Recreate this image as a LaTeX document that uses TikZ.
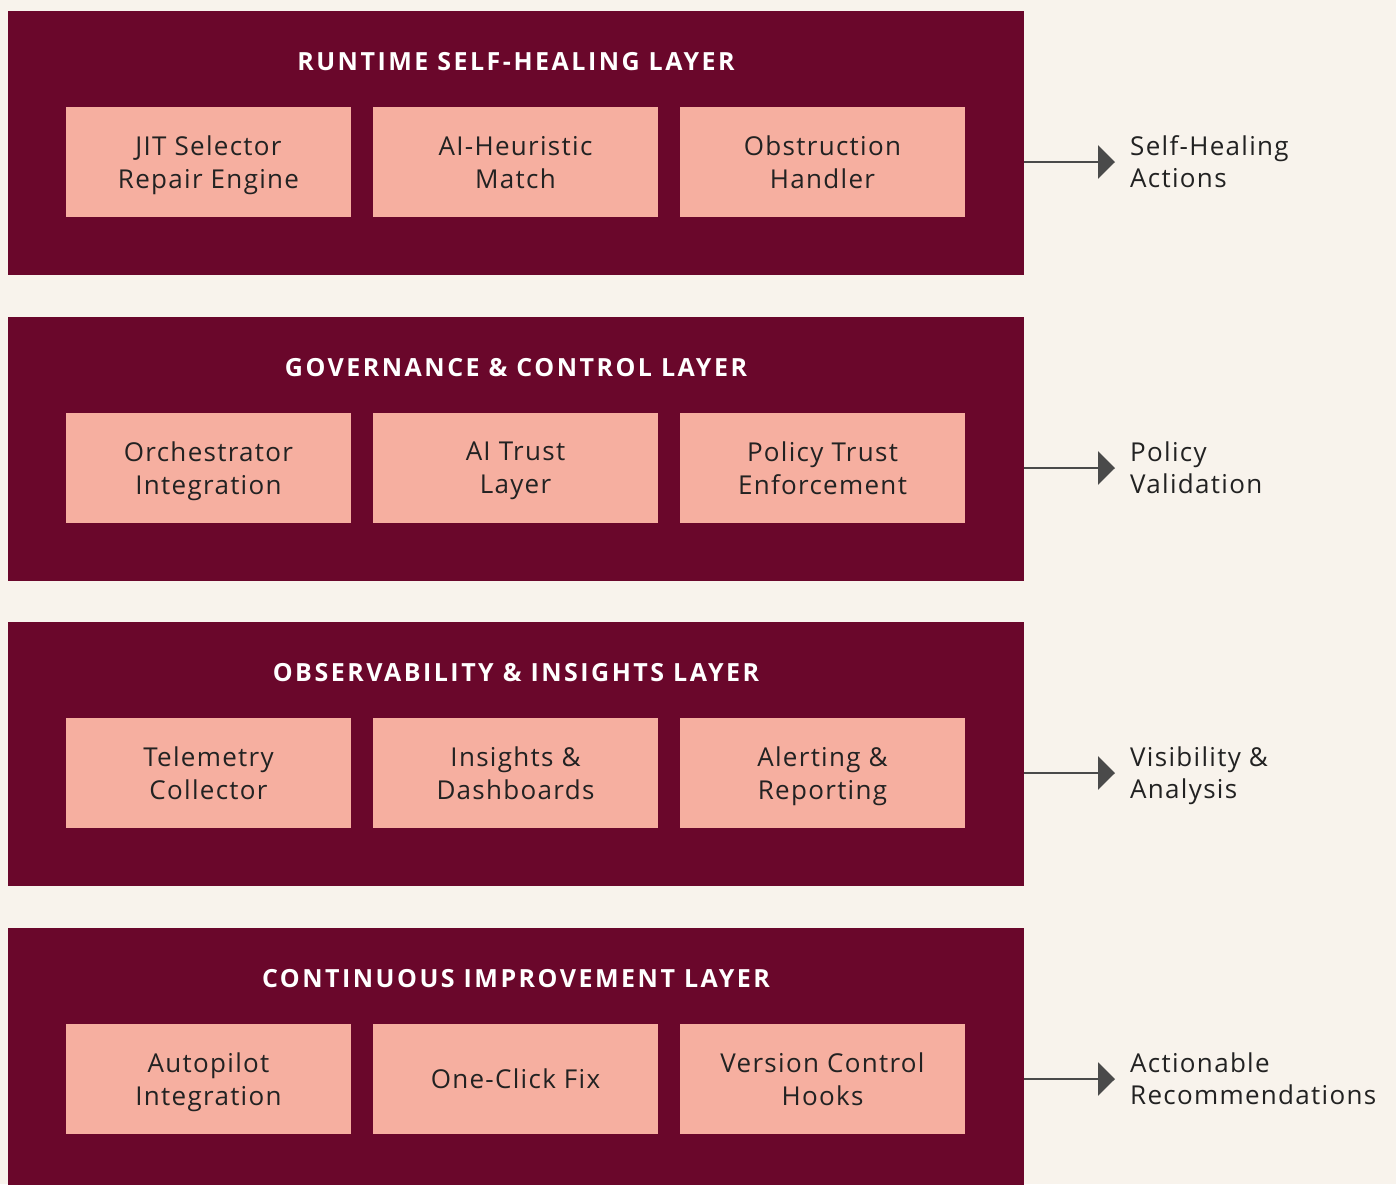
\documentclass[tikz,border=0pt]{standalone}
\usepackage{fontspec}
\setmainfont{Open Sans}
\newfontfamily\titlefont[LetterSpace=10]{Open Sans}
\newfontfamily\boxfont[LetterSpace=5]{Open Sans}
\usetikzlibrary{positioning, arrows.meta}
\definecolor{paper}{HTML}{F8F3EC}
\definecolor{layerred}{HTML}{6A072B}
\definecolor{modpink}{HTML}{F6AFA0}
\definecolor{ink}{HTML}{222222}
\definecolor{arrowgray}{HTML}{4A4A4A}
\tikzset{%
  layer/.style={fill=layerred, anchor=north west, inner sep=0pt, outer sep=0pt,
    minimum width=1016pt, minimum height=264pt},
  layer title/.style={text=white, font=\titlefont\fontsize{25}{30}\selectfont\bfseries},
  module/.style={fill=modpink, text=ink, align=center, inner sep=0pt, outer sep=0pt,
    minimum width=285pt, minimum height=110pt, font=\boxfont\fontsize{26}{33}\selectfont,
    text depth=0pt},
  flow/.style={draw=arrowgray, line width=2.5pt, -{Triangle[length=17pt, width=33pt]}},
  outcome/.style={anchor=west, align=left, text=ink, inner sep=0pt,
    font=\boxfont\fontsize{26}{32}\selectfont, text depth=0pt}
}

\begin{document}
\begin{tikzpicture}[x=1pt, y=-1pt, node distance=22pt]
  \clip (0,0) rectangle (1396,1184);
  \fill[paper] (0,0) rectangle (1396,1184);
  \foreach \top/\title/\ma/\mb/\mc/\out [count=\i] in {
      11/{RUNTIME SELF-HEALING LAYER}/{JIT Selector\\Repair Engine}/{AI-Heuristic\\Match}/{Obstruction\\Handler}/{Self-Healing\\Actions},
      317/{GOVERNANCE \& CONTROL LAYER}/{Orchestrator\\Integration}/{AI Trust\\Layer}/{Policy Trust\\Enforcement}/{Policy\\Validation},
      622/{OBSERVABILITY \& INSIGHTS LAYER}/{Telemetry\\Collector}/{Insights \&\\Dashboards}/{Alerting \&\\Reporting}/{Visibility \&\\Analysis},
      928/{CONTINUOUS IMPROVEMENT LAYER}/{Autopilot\\Integration}/{One-Click Fix}/{Version Control\\Hooks}/{Actionable\\Recommendations}} {
    \node[layer] (layer\i) at (8,\top) {};
    \node[layer title] (title\i) at (516,\top+51) {\title};
    \node[module, anchor=north west] (mod\i-1) at (66,\top+96) {\ma};
    \node[module, right=of mod\i-1] (mod\i-2) {\mb};
    \node[module, right=of mod\i-2] (mod\i-3) {\mc};
    % outgoing result of the layer
    \coordinate (tip\i) at (1115,\top+151);
    \draw[flow] (layer\i.east |- tip\i) -- (tip\i);
    \node[outcome] (out\i) at (1130,\top+151) {\out};
  }
\end{tikzpicture}
\end{document}
